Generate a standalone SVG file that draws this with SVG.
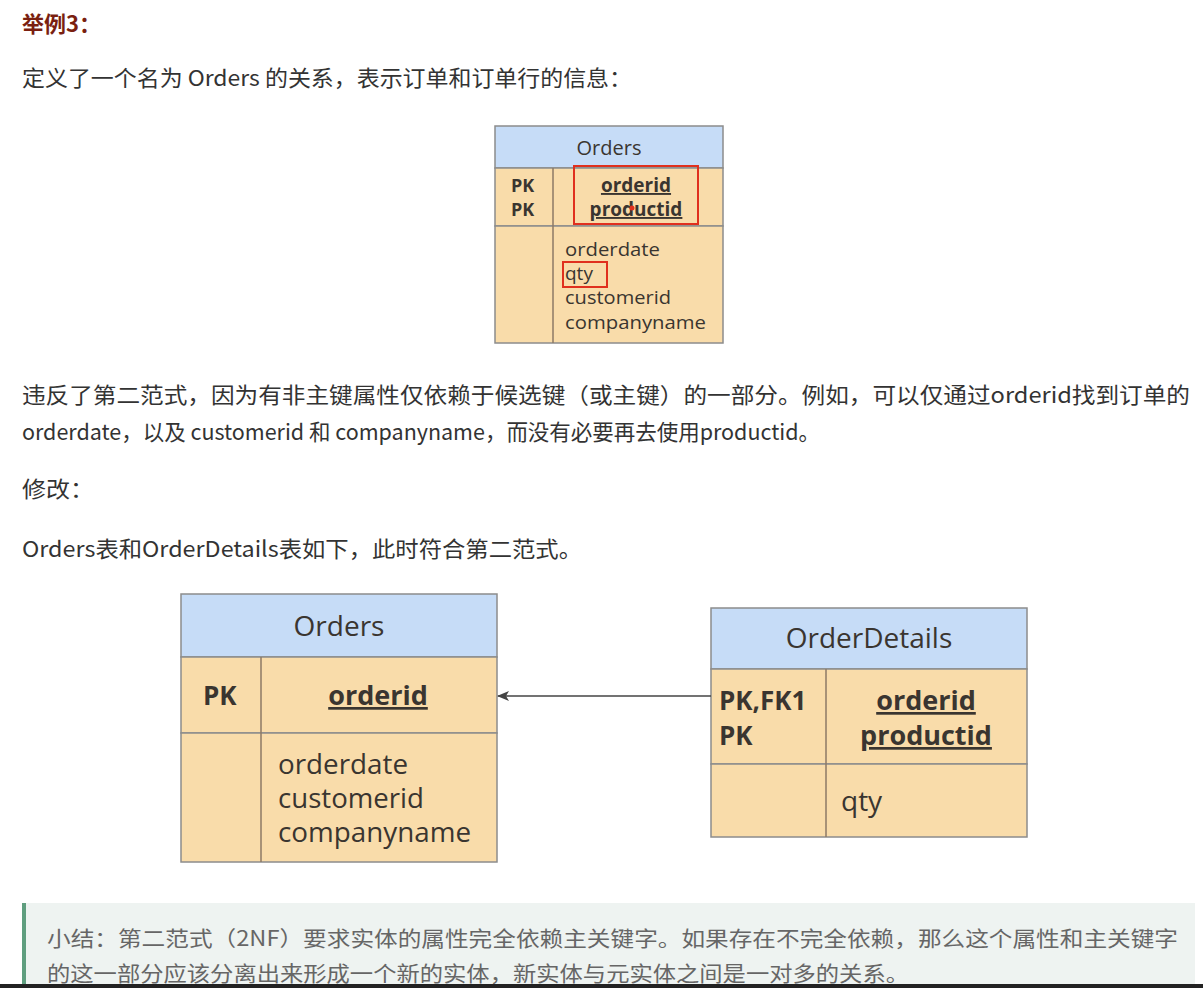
<svg xmlns="http://www.w3.org/2000/svg" width="1203" height="988" viewBox="0 0 1203 988">
<style>
.cjk{font-family:"Noto Sans CJK SC","Noto Sans",sans-serif;fill:#333}
.tb{font-family:"Open Sans","Noto Sans",sans-serif;fill:#3a3530}
.hd{fill:#c6dcf7;stroke:#8c8c8c;stroke-width:1.5}
.bd{fill:#f9dcaa;stroke:#8c8c8c;stroke-width:1.5}
.ln{stroke:#8c7a66;stroke-width:1.5;fill:none}
.b{font-weight:bold}
.u{text-decoration:underline}
.red{fill:none;stroke:#e0301e;stroke-width:2}
</style>
<defs>
<marker id="ah" markerWidth="12" markerHeight="10" refX="11" refY="5" orient="auto" markerUnits="userSpaceOnUse">
<path d="M0,0 L12,5 L0,10 L3,5 Z" fill="#444"/>
</marker>
</defs>
<rect width="1203" height="988" fill="#fff"/>
<text x="22" y="32" font-family="Noto Sans CJK SC,sans-serif" font-size="22" font-weight="bold" fill="#7a1f10">举例3：</text>
<text class="cjk" x="22" y="86" font-size="22" textLength="610" lengthAdjust="spacingAndGlyphs">定义了一个名为 Orders 的关系，表示订单和订单行的信息：</text>

<g id="orders-old">
<rect class="hd" x="495" y="126" width="228" height="42"/>
<rect class="bd" x="495" y="168" width="228" height="58"/>
<rect class="bd" x="495" y="226" width="228" height="117"/>
<line class="ln" x1="553" y1="168" x2="553" y2="343"/>
<text class="tb" x="609" y="155" font-size="20" text-anchor="middle">Orders</text>
<text class="tb b" x="511" y="192" font-size="18">PK</text>
<text class="tb b" x="511" y="216" font-size="18">PK</text>
<text class="tb b u" x="636" y="192" font-size="19" text-anchor="middle">orderid</text>
<text class="tb b u" x="636" y="216" font-size="19" text-anchor="middle">productid</text>
<text class="tb" x="565" y="256" font-size="19" textLength="95" lengthAdjust="spacingAndGlyphs">orderdate</text>
<text class="tb" x="565" y="280" font-size="19">qty</text>
<text class="tb" x="565" y="304" font-size="19" textLength="106" lengthAdjust="spacingAndGlyphs">customerid</text>
<text class="tb" x="565" y="329" font-size="19" textLength="141" lengthAdjust="spacingAndGlyphs">companyname</text>
<rect class="red" x="574" y="166" width="124" height="58"/>
<rect class="red" x="563" y="262" width="44" height="25"/>
<circle cx="632" cy="208" r="2.5" fill="#e0301e"/>
</g>

<text class="cjk" x="22" y="403" font-size="22" textLength="1168" lengthAdjust="spacingAndGlyphs">违反了第二范式，因为有非主键属性仅依赖于候选键（或主键）的一部分。例如，可以仅通过orderid找到订单的</text>
<text class="cjk" x="22" y="440" font-size="22" textLength="798" lengthAdjust="spacingAndGlyphs">orderdate，以及 customerid 和 companyname，而没有必要再去使用productid。</text>
<text class="cjk" x="22" y="497" font-size="22" textLength="72" lengthAdjust="spacingAndGlyphs">修改：</text>
<text class="cjk" x="22" y="557" font-size="22" textLength="560" lengthAdjust="spacingAndGlyphs">Orders表和OrderDetails表如下，此时符合第二范式。</text>

<g id="orders">
<rect class="hd" x="181" y="594" width="316" height="63"/>
<rect class="bd" x="181" y="657" width="316" height="76"/>
<rect class="bd" x="181" y="733" width="316" height="129"/>
<line class="ln" x1="261" y1="657" x2="261" y2="862"/>
<text class="tb" x="339" y="636" font-size="28" text-anchor="middle">Orders</text>
<text class="tb b" x="203" y="705" font-size="26">PK</text>
<text class="tb b u" x="378" y="705" font-size="27" text-anchor="middle">orderid</text>
<text class="tb" x="278" y="774" font-size="27" textLength="130" lengthAdjust="spacingAndGlyphs">orderdate</text>
<text class="tb" x="278" y="808" font-size="27" textLength="146" lengthAdjust="spacingAndGlyphs">customerid</text>
<text class="tb" x="278" y="842" font-size="27" textLength="193" lengthAdjust="spacingAndGlyphs">companyname</text>
</g>

<g id="orderdetails">
<rect class="hd" x="711" y="608" width="316" height="61"/>
<rect class="bd" x="711" y="669" width="316" height="95"/>
<rect class="bd" x="711" y="764" width="316" height="73"/>
<line class="ln" x1="826" y1="669" x2="826" y2="837"/>
<text class="tb" x="869" y="648" font-size="28" text-anchor="middle">OrderDetails</text>
<text class="tb b" x="719" y="710" font-size="26">PK,FK1</text>
<text class="tb b" x="719" y="745" font-size="26">PK</text>
<text class="tb b u" x="926" y="710" font-size="27" text-anchor="middle">orderid</text>
<text class="tb b u" x="926" y="745" font-size="27" text-anchor="middle">productid</text>
<text class="tb" x="841" y="811" font-size="28">qty</text>
</g>

<g id="connectors">
<line x1="711" y1="696" x2="498" y2="696" stroke="#444" stroke-width="1.5" marker-end="url(#ah)"/>
</g>

<rect x="22" y="903" width="1173" height="85" fill="#eef3f1"/>
<rect x="22" y="903" width="4" height="85" fill="#5f9e7f"/>
<text x="47" y="946" font-family="Noto Sans CJK SC,sans-serif" font-size="21" fill="#666" textLength="1131" lengthAdjust="spacingAndGlyphs">小结：第二范式（2NF）要求实体的属性完全依赖主关键字。如果存在不完全依赖，那么这个属性和主关键字</text>
<text x="47" y="981" font-family="Noto Sans CJK SC,sans-serif" font-size="21" fill="#666" textLength="862" lengthAdjust="spacingAndGlyphs">的这一部分应该分离出来形成一个新的实体，新实体与元实体之间是一对多的关系。</text>
<rect x="0" y="984" width="1203" height="4" fill="#222"/>
</svg>
